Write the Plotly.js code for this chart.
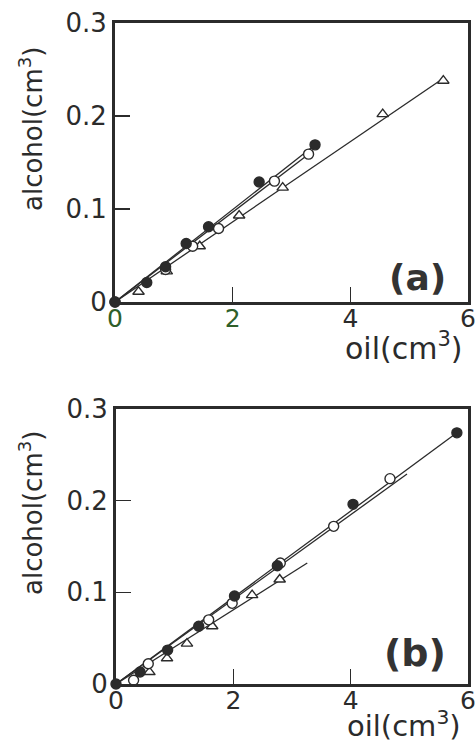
<!DOCTYPE html>
<html>
<head>
<meta charset="utf-8">
<script src="https://cdn.plot.ly/plotly-3.0.1.min.js"></script>
<style>html,body{margin:0;padding:0;background:#fff;}#chart{width:475px;height:745px;}</style>
</head>
<body>
<div id="chart"></div>
<script>
// ---- Panel (a) data ----
const aFilledX = [0, 0.54, 0.86, 1.21, 1.59, 2.45, 3.40];
const aFilledY = [0, 0.021, 0.038, 0.063, 0.081, 0.129, 0.169];
const aOpenX = [0, 0.86, 1.32, 1.76, 2.71, 3.29];
const aOpenY = [0, 0.035, 0.060, 0.079, 0.130, 0.159];
const aTriX = [0.40, 0.88, 1.44, 2.11, 2.85, 4.55, 5.58];
const aTriY = [0.011, 0.033, 0.060, 0.093, 0.123, 0.202, 0.238];
// fitted lines (a)
const aFilledFitX = [0, 3.38];
const aFilledFitY = [0, 0.168];
const aOpenFitX = [0, 3.29];
const aOpenFitY = [0, 0.159];
const aTriFitX = [0, 5.52];
const aTriFitY = [0, 0.238];

// ---- Panel (b) data ----
const bFilledX = [0, 0.41, 0.88, 1.41, 2.02, 2.75, 4.04, 5.81];
const bFilledY = [0, 0.013, 0.037, 0.063, 0.096, 0.129, 0.196, 0.274];
const bOpenX = [0.30, 0.55, 1.58, 1.98, 2.80, 3.71, 4.67];
const bOpenY = [0.004, 0.022, 0.070, 0.088, 0.132, 0.172, 0.224];
const bTriX = [0.57, 0.87, 1.21, 1.64, 2.32, 2.79];
const bTriY = [0.013, 0.028, 0.044, 0.063, 0.097, 0.114];
// fitted lines (b)
const bFilledFitX = [0, 5.81];
const bFilledFitY = [0, 0.274];
const bOpenFitX = [0, 4.96];
const bOpenFitY = [0, 0.229];
const bTriFitX = [0, 3.26];
const bTriFitY = [0, 0.132];

// ---- ticks / labels ----
const xTickVals = [0, 2, 4, 6];
const xTickTextA = ['<span style="color:#2f5f2a">0</span>', '<span style="color:#2f5f2a">2</span>', '4', '6'];
const xTickTextB = ['0', '2', '4', '6'];
const yTickVals = [0, 0.1, 0.2, 0.3];
const yTickText = ['0', '0.1', '0.2', '0.3'];
const xTitle = 'oil(cm<sup>3</sup>)';
const yTitle = 'alcohol(cm<sup>3</sup>)';
const panelLabels = ['(a)', '(b)'];

const ink = '#2b2b2b';
const font = 'DejaVu Sans, sans-serif';

function fit(x, y, xa, ya) {
  return {x: x, y: y, xaxis: xa, yaxis: ya, mode: 'lines', type: 'scatter',
    line: {color: ink, width: 1.3}, hoverinfo: 'skip', cliponaxis: false};
}
function pts(x, y, xa, ya, sym, size, filled) {
  return {x: x, y: y, xaxis: xa, yaxis: ya, mode: 'markers', type: 'scatter', cliponaxis: false,
    marker: {symbol: sym, size: size, color: filled ? ink : '#ffffff',
      line: {color: ink, width: 1.4}}};
}

const traces = [
  fit(aFilledFitX, aFilledFitY, 'x', 'y'),
  fit(aOpenFitX, aOpenFitY, 'x', 'y'),
  fit(aTriFitX, aTriFitY, 'x', 'y'),
  pts(aTriX, aTriY, 'x', 'y', 'triangle-up', 10, false),
  pts(aOpenX, aOpenY, 'x', 'y', 'circle', 10, false),
  pts(aFilledX, aFilledY, 'x', 'y', 'circle', 10, true),
  fit(bFilledFitX, bFilledFitY, 'x2', 'y2'),
  fit(bOpenFitX, bOpenFitY, 'x2', 'y2'),
  fit(bTriFitX, bTriFitY, 'x2', 'y2'),
  pts(bTriX, bTriY, 'x2', 'y2', 'triangle-up', 10, false),
  pts(bOpenX, bOpenY, 'x2', 'y2', 'circle', 10, false),
  pts(bFilledX, bFilledY, 'x2', 'y2', 'circle', 10, true)
];

function xax(domain, anchor, ticktext) {
  return {domain: domain, anchor: anchor, range: [0, 6], tickmode: 'array', tickvals: xTickVals,
    ticktext: ticktext, ticks: 'inside', ticklen: 15, tickwidth: 1.3, tickcolor: ink,
    showline: true, linewidth: 3, linecolor: ink, mirror: true, showgrid: false, zeroline: false,
    ticklabeloverflow: 'allow', ticklabelstandoff: -8,
    tickfont: {family: font, size: 25, color: ink}, automargin: false, fixedrange: true};
}
function yax(domain, anchor) {
  return {domain: domain, anchor: anchor, range: [0, 0.3], tickmode: 'array', tickvals: yTickVals,
    ticktext: yTickText, ticks: 'inside', ticklen: 15, tickwidth: 1.3, tickcolor: ink,
    showline: true, linewidth: 3, linecolor: ink, mirror: true, showgrid: false, zeroline: false,
    tickfont: {family: font, size: 26, color: ink}, automargin: false, fixedrange: true};
}

const layout = {
  width: 475, height: 745, margin: {l: 0, r: 0, t: 0, b: 0},
  paper_bgcolor: '#fff', plot_bgcolor: '#fff', showlegend: false,
  font: {family: font, color: ink},
  xaxis: xax([0.2421, 0.9853], 'y', xTickTextA),
  yaxis: yax([0.5946, 0.9691], 'x'),
  xaxis2: xax([0.2442, 0.9853], 'y2', xTickTextB),
  yaxis2: yax([0.0819, 0.4510], 'x2'),
  annotations: [
    {text: xTitle, xref: 'paper', yref: 'paper', x: 404/475, y: 1 - 346/745, xanchor: 'center', yanchor: 'middle',
     showarrow: false, font: {family: font, size: 30, color: ink}},
    {text: xTitle, xref: 'paper', yref: 'paper', x: 404/475, y: 1 - 724/745, xanchor: 'center', yanchor: 'middle',
     showarrow: false, font: {family: font, size: 29, color: ink}},
    {text: yTitle, xref: 'paper', yref: 'paper', x: 31/475, y: 1 - 129/745, xanchor: 'center', yanchor: 'middle',
     textangle: -90, showarrow: false, font: {family: font, size: 26, color: ink}},
    {text: yTitle, xref: 'paper', yref: 'paper', x: 31/475, y: 1 - 513/745, xanchor: 'center', yanchor: 'middle',
     textangle: -90, showarrow: false, font: {family: font, size: 26, color: ink}},
    {text: '<b>' + panelLabels[0] + '</b>', xref: 'paper', yref: 'paper', x: 417/475, y: 1 - 277/745,
     xanchor: 'center', yanchor: 'middle', showarrow: false, font: {family: font, size: 36, color: '#333'}},
    {text: '<b>' + panelLabels[1] + '</b>', xref: 'paper', yref: 'paper', x: 415/475, y: 1 - 653/745,
     xanchor: 'center', yanchor: 'middle', showarrow: false, font: {family: font, size: 38, color: '#333'}}
  ]
};

Plotly.newPlot('chart', traces, layout, {staticPlot: true, displayModeBar: false});
</script>
</body>
</html>
